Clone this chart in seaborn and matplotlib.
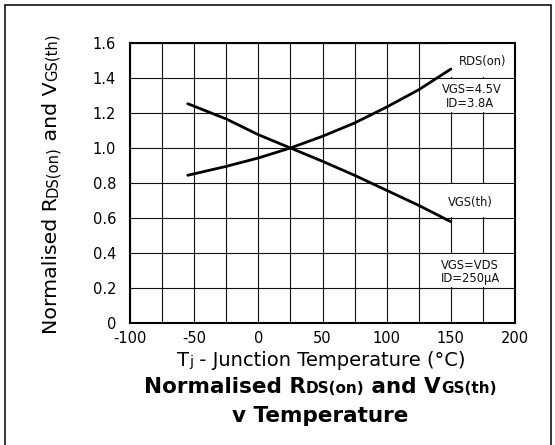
import numpy as np
import pandas as pd
import matplotlib
matplotlib.use("Agg")
import matplotlib.pyplot as plt
import seaborn as sns
from matplotlib.transforms import IdentityTransform
from matplotlib.lines import Line2D
from matplotlib.patches import Rectangle

# ---- data ----
temps = [-55, -25, 0, 25, 50, 75, 100, 125, 150]
rds_on = [0.844, 0.895, 0.943, 1.0, 1.067, 1.143, 1.234, 1.333, 1.451]
vgs_th = [1.253, 1.166, 1.076, 1.0, 0.924, 0.844, 0.758, 0.672, 0.579]

x_ticks = [-100, -50, 0, 50, 100, 150, 200]
x_tick_labels = ["-100", "-50", "0", "50", "100", "150", "200"]
y_ticks = [0, 0.2, 0.4, 0.6, 0.8, 1.0, 1.2, 1.4, 1.6]
y_tick_labels = ["0", "0.2", "0.4", "0.6", "0.8", "1.0", "1.2", "1.4", "1.6"]

sns.set_theme(style="white")
plt.rcParams["font.family"] = ["DejaVu Sans"]

fig = plt.figure(figsize=(5.55, 4.45), dpi=100)
W, H = 555, 445
ax = fig.add_axes([130 / W, (H - 323) / H, 385 / W, 280 / H])

df = pd.DataFrame({
    "T": temps + temps,
    "v": rds_on + vgs_th,
    "s": ["RDS(on)"] * len(temps) + ["VGS(th)"] * len(temps),
})
sns.lineplot(data=df, x="T", y="v", hue="s", palette=["black", "black"],
             legend=False, lw=2.0, ax=ax, zorder=5)

ax.set_xlim(-100, 200)
ax.set_ylim(0, 1.6)
ax.set_xticks(x_ticks)
ax.set_xticklabels(x_tick_labels)
ax.set_xticks(np.arange(-75, 200, 50), minor=True)
ax.set_yticks(y_ticks)
ax.set_yticklabels(y_tick_labels)
ax.grid(True, which="both", color="#111111", lw=0.8)
ax.set_axisbelow(True)
ax.tick_params(which="both", length=0, labelsize=10.5, colors="black")
ax.tick_params(axis="x", pad=6.0)
ax.tick_params(axis="y", pad=10.0)
ax.set_xlabel("")
ax.set_ylabel("")
for sp in ax.spines.values():
    sp.set_color("black")
    sp.set_linewidth(1.5)
    sp.set_visible(True)

# white label boxes that interrupt the vertical grid lines
for y0 in [1.4, 1.2, 0.6, 0.2]:
    ax.add_patch(Rectangle((148.5, y0 + 0.007), 51.5, 0.186, facecolor="white",
                           edgecolor="none", zorder=1.5))

notes = [
    (175, 1.493, "RDS(on)"),
    (166, 1.335, "VGS=4.5V"),
    (165, 1.256, "ID=3.8A"),
    (165, 0.691, "VGS(th)"),
    (165, 0.331, "VGS=VDS"),
    (165, 0.256, "ID=250µA"),
]
for x, y, s in notes:
    ax.text(x, y, s, ha="center", va="center", fontsize=8.3, color="#111111", zorder=6)


def rich(x, y, pieces, rotation=0):
    r = fig.canvas.get_renderer()

    def width(s, fs, w):
        t = fig.text(0, 0, "|" + s + "|", fontsize=fs, fontweight=w, transform=IdentityTransform())
        t0 = fig.text(0, 0, "||", fontsize=fs, fontweight=w, transform=IdentityTransform())
        wd = t.get_window_extent(r).width - t0.get_window_extent(r).width
        t.remove()
        t0.remove()
        return wd

    widths = [width(*p) for p in pieces]
    pos = -sum(widths) / 2
    for (s, fs, w), wd in zip(pieces, widths):
        tx, ty = (x + pos, y) if rotation == 0 else (x, y + pos)
        fig.text(tx, ty, s, fontsize=fs, fontweight=w, rotation=rotation,
                 rotation_mode="anchor", ha="left", va="baseline",
                 color="black", transform=IdentityTransform())
        pos += wd


rich(321, H - 366, [("T", 14, "normal"), ("j", 10, "normal"),
                    (" - Junction Temperature (°C)", 14, "normal")])
rich(320, H - 392.7, [("Normalised R", 15.5, "bold"), ("DS(on)", 11, "bold"),
                      (" and V", 15.5, "bold"), ("GS(th)", 11, "bold")])
rich(320, H - 421.7, [("v Temperature", 15.5, "bold")])
rich(57, H - 184, [("Normalised R", 14.75, "normal"), ("DS(on)", 10.6, "normal"),
                   (" and V", 14.75, "normal"), ("GS(th)", 10.6, "normal")], rotation=90)

# outer frame of the picture
for xs, ys in [([4.5 / W, 4.5 / W], [0, 1 - 5 / H]),
               ([550.5 / W, 550.5 / W], [0, 1 - 5 / H]),
               ([4.5 / W, 550.5 / W], [1 - 5 / H, 1 - 5 / H])]:
    fig.add_artist(Line2D(xs, ys, color="black", lw=1.1, transform=fig.transFigure))

fig.savefig("out.png", dpi=100)
